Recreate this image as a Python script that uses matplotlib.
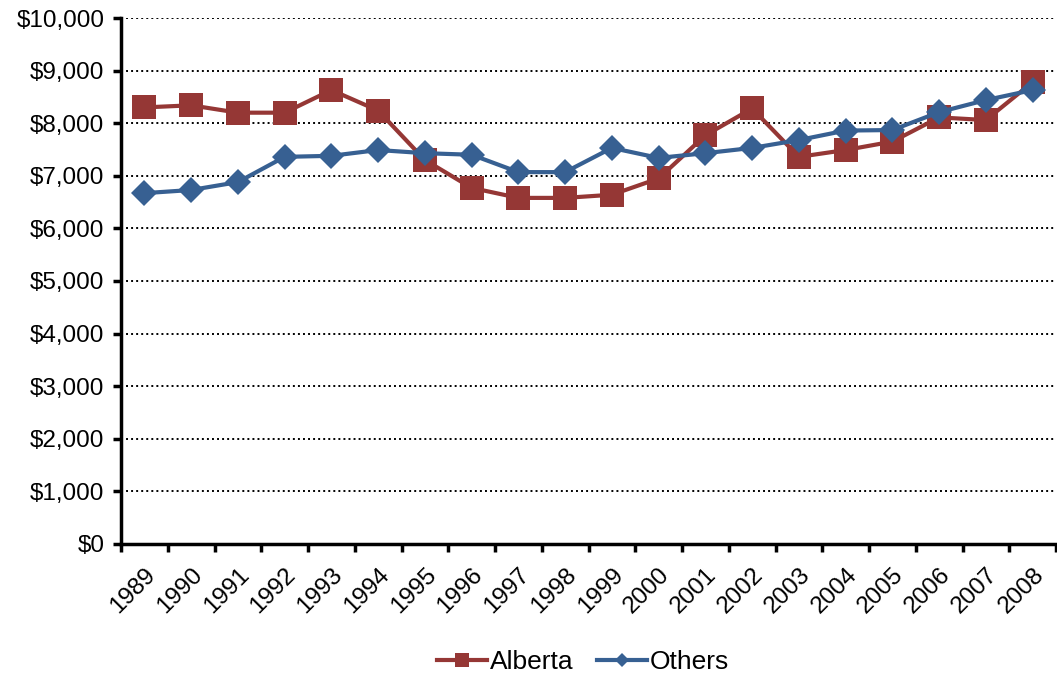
import matplotlib
matplotlib.use("Agg")
import matplotlib.pyplot as plt
from matplotlib.lines import Line2D
from matplotlib.ticker import FuncFormatter, FixedLocator

# Datos
years = ["1989", "1990", "1991", "1992", "1993", "1994", "1995", "1996", "1997", "1998",
         "1999", "2000", "2001", "2002", "2003", "2004", "2005", "2006", "2007", "2008"]
alberta = [8300, 8340, 8200, 8200, 8630, 8240, 7300, 6770, 6580, 6580,
           6640, 6950, 7770, 8280, 7360, 7490, 7650, 8110, 8060, 8780]
others = [6670, 6730, 6880, 7360, 7380, 7490, 7430, 7400, 7070, 7070,
          7530, 7340, 7430, 7530, 7680, 7860, 7870, 8210, 8440, 8630]

red = "#953735"
blue = "#376092"

plt.rcParams["font.family"] = ["Liberation Sans", "DejaVu Sans"]

fig = plt.figure(figsize=(10.57, 6.78), dpi=100)
ax = fig.add_axes([121 / 1057, 134 / 678, 935 / 1057, 526 / 678])

x = list(range(len(years)))
ax.plot(x, alberta, color=red, linewidth=3, marker="s", markersize=17,
        markeredgewidth=0, zorder=3)
ax.plot(x, others, color=blue, linewidth=3, marker="D", markersize=13,
        markeredgewidth=0, zorder=4)

# Ejes
ax.set_xlim(-0.5, len(years) - 0.5)
ax.set_ylim(0, 10000)
ax.set_yticks(range(0, 10001, 1000))
ax.yaxis.set_major_formatter(FuncFormatter(lambda v, p: f"${int(v):,}"))
ax.set_xticks(x)
ax.set_xticklabels(years, rotation=45, ha="right", va="top", rotation_mode="anchor")
ax.xaxis.set_minor_locator(FixedLocator([i - 0.5 for i in range(len(years) + 1)]))
ax.tick_params(axis="x", which="major", length=0, pad=14, labelsize=17.5)
ax.tick_params(axis="x", which="minor", length=6, width=2.5, direction="out")
ax.tick_params(axis="y", length=6, width=2.5, direction="out", labelsize=17.5, pad=6)

ax.grid(True, axis="y", linestyle=(0, (1, 1.6)), color="black", linewidth=1.4)
ax.set_axisbelow(True)
for s in ["top", "right"]:
    ax.spines[s].set_visible(False)
for s in ["left", "bottom"]:
    ax.spines[s].set_linewidth(2.5)

# Leyenda
handles = [
    Line2D([], [], color=red, linewidth=3, marker="s", markersize=10, markeredgewidth=0),
    Line2D([], [], color=blue, linewidth=3, marker="D", markersize=7.5, markeredgewidth=0),
]
fig.legend(handles, ["Alberta", "Others"], loc="center", ncol=2,
           bbox_to_anchor=(583 / 1057, 1 - 662 / 678), frameon=False,
           fontsize=19, handlelength=1.9, handletextpad=0.1, columnspacing=0.9)

fig.savefig("out.png", dpi=100)
